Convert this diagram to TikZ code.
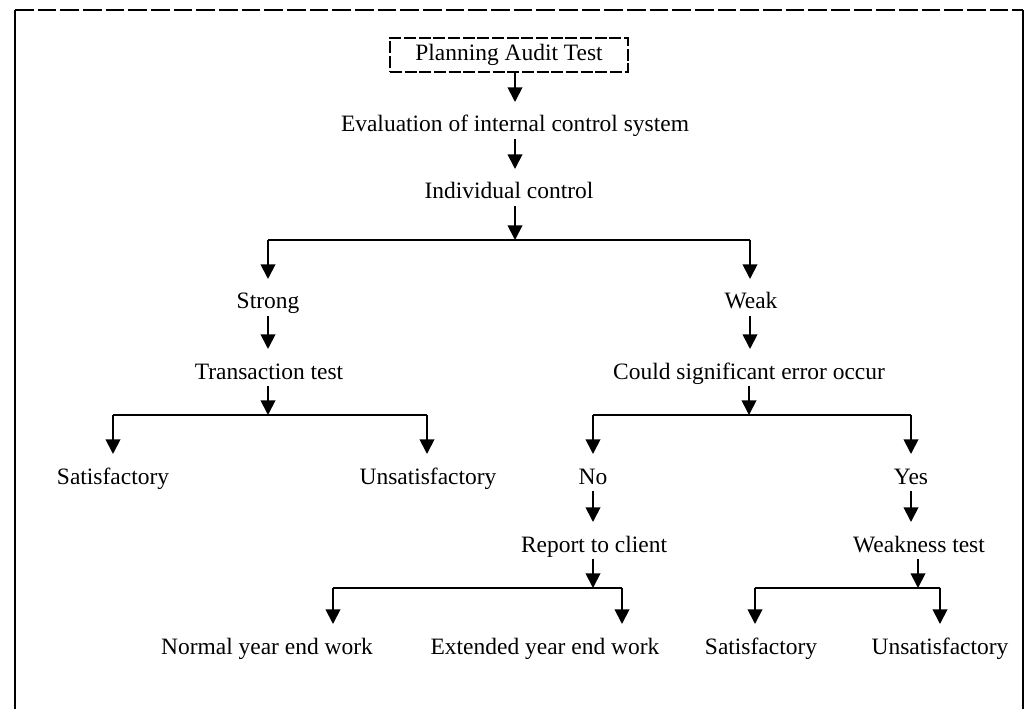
\documentclass[tikz,border=0pt]{standalone}
\usepackage{fontspec}
\setmainfont{Liberation Serif}
\usetikzlibrary{arrows.meta}
\begin{document}
\begin{tikzpicture}[x=0.75pt,y=-0.75pt,
  lbl/.style={inner sep=0pt, outer sep=0pt, text height=22.5pt, text depth=5.25pt, anchor=base, font=\fontsize{17.6}{20}\selectfont},
  boxnode/.style={draw, dashed, dash pattern=on 9pt off 2pt, line width=1.3pt, minimum width=178.5pt, minimum height=25.5pt, inner sep=0pt, outer sep=0pt, font=\fontsize{17.6}{20}\selectfont},
  arr/.style={line width=1.4pt, -{Triangle[length=11pt,width=11pt]}},
  ln/.style={line width=1.4pt},
  framesolid/.style={line width=1.5pt},
  framedash/.style={line width=1.5pt, dash pattern=on 14pt off 3pt}]
\useasboundingbox (0,0) rectangle (1025,709);
% frame
\coordinate (fbl) at (15,709);
\coordinate (ftl) at (15,10);
\coordinate (ftr) at (1023,10);
\coordinate (fbr) at (1023,709);
\draw[framesolid] (fbl) -- (ftl);
\draw[framedash] (ftl) -- (ftr);
\draw[framesolid] (ftr) -- (fbr);
% nodes
\node[boxnode] (plan) at (509,55) {Planning Audit Test};
\node[lbl] (eval) at (515,132) {Evaluation of internal control system};
\node[lbl] (indiv) at (509,199) {Individual control};
\coordinate (j1) at (515,240);
\coordinate (jl) at (268,240);
\coordinate (jr) at (750,240);
\node[lbl] (strong) at (268,309) {Strong};
\node[lbl] (weak) at (751,309) {Weak};
\node[lbl] (trans) at (269,379) {Transaction test};
\node[lbl] (could) at (749,379) {Could significant error occur};
\coordinate (j2) at (268,415);
\coordinate (j2l) at (113,415);
\coordinate (j2r) at (427,415);
\coordinate (j3) at (749,415);
\coordinate (j3l) at (593,415);
\coordinate (j3r) at (911,415);
\node[lbl] (sat1) at (113,484) {Satisfactory};
\node[lbl] (uns1) at (428,484) {Unsatisfactory};
\node[lbl] (no) at (593,484) {No};
\node[lbl] (yes) at (911,484) {Yes};
\node[lbl] (report) at (594,552) {Report to client};
\node[lbl] (wtest) at (919,552) {Weakness test};
\coordinate (j4) at (593,588);
\coordinate (j4l) at (333,588);
\coordinate (j4r) at (622,588);
\coordinate (j5) at (918,588);
\coordinate (j5l) at (755,588);
\coordinate (j5r) at (940,588);
\node[lbl] (normal) at (267,654) {Normal year end work};
\node[lbl] (ext) at (545,654) {Extended year end work};
\node[lbl] (sat2) at (761,654) {Satisfactory};
\node[lbl] (uns2) at (940,654) {Unsatisfactory};
% connectors
\draw[arr] (plan.south -| eval.south) -- (eval.north);
\draw[arr] (eval.south -| j1) -- (indiv.north -| j1);
\draw[arr] (indiv.south -| j1) -- (j1);
\draw[ln] (jl) -- (jr);
\draw[arr] (jl) -- (jl |- strong.north);
\draw[arr] (jr) -- (jr |- weak.north);
\draw[arr] (strong.south -| jl) -- (jl |- trans.north);
\draw[arr] (weak.south -| jr) -- (jr |- could.north);
\draw[arr] (trans.south -| j2) -- (j2);
\draw[ln] (j2l) -- (j2r);
\draw[arr] (j2l) -- (j2l |- sat1.north);
\draw[arr] (j2r) -- (j2r |- uns1.north);
\draw[arr] (could.south -| j3) -- (j3);
\draw[ln] (j3l) -- (j3r);
\draw[arr] (j3l) -- (j3l |- no.north);
\draw[arr] (j3r) -- (j3r |- yes.north);
\draw[arr] (no.south -| j3l) -- (j3l |- report.north);
\draw[arr] (yes.south -| j3r) -- (j3r |- wtest.north);
\draw[arr] (report.south -| j4) -- (j4);
\draw[ln] (j4l) -- (j4r);
\draw[arr] (j4l) -- (j4l |- normal.north);
\draw[arr] (j4r) -- (j4r |- ext.north);
\draw[arr] (wtest.south -| j5) -- (j5);
\draw[ln] (j5l) -- (j5r);
\draw[arr] (j5l) -- (j5l |- sat2.north);
\draw[arr] (j5r) -- (j5r |- uns2.north);
\end{tikzpicture}
\end{document}
